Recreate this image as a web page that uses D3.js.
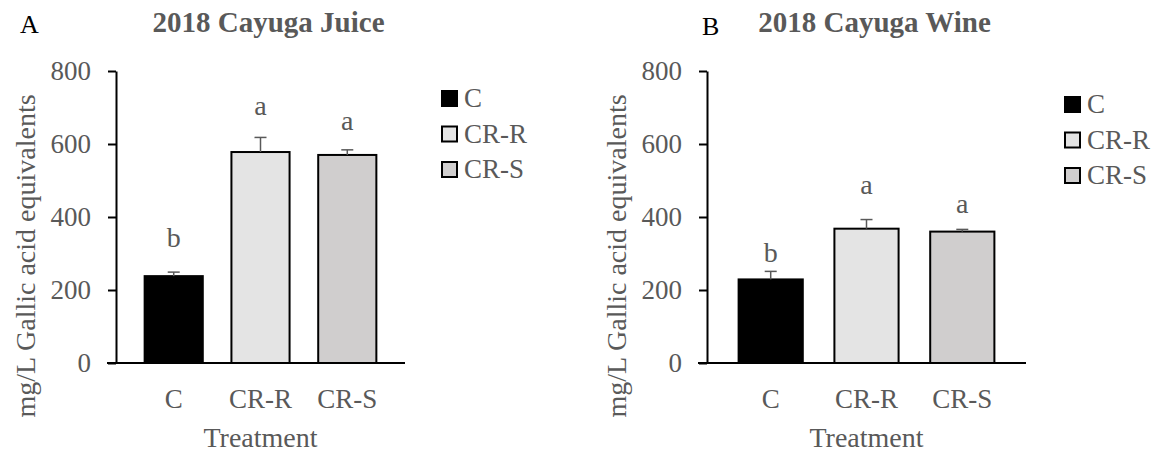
<!DOCTYPE html>
<html>
<head>
<meta charset="utf-8">
<script src="https://cdn.jsdelivr.net/npm/d3@7"></script>
<style>
	body { margin: 0; background: #fff; }
	text { font-family: "Liberation Serif", "Times New Roman", serif; }
</style>
</head>
<body>
<svg id="chart" width="1162" height="452"></svg>
<script>
var categories = ["C", "CR-R", "CR-S"];
var yTicks = [0, 200, 400, 600, 800];

var juiceMeans = [238, 578, 570];
var juiceErrors = [11, 40, 14];
var juiceLetters = ["b", "a", "a"];
var juiceLetterAt = [318, 679, 638];

var wineMeans = [229, 368, 360];
var wineErrors = [22, 25, 6];
var wineLetters = ["b", "a", "a"];
var wineLetterAt = [278, 462, 412];

var fills = ["#000000", "#e4e4e4", "#d0cece"];
var grey = "#595959";

var svg = d3.select("#chart");

drawPanel({
	tag: "A", tagX: 20, tagY: 33,
	title: "2018 Cayuga Juice",
	left: 116, right: 405,
	legendX: 442, legendY: 91,
	means: juiceMeans, errors: juiceErrors, letters: juiceLetters, letterAt: juiceLetterAt
});

drawPanel({
	tag: "B", tagX: 702, tagY: 35,
	title: "2018 Cayuga Wine",
	left: 707, right: 1026,
	legendX: 1065, legendY: 97,
	means: wineMeans, errors: wineErrors, letters: wineLetters, letterAt: wineLetterAt
});

function drawPanel(p) {
	var top = 71, bottom = 363;
	var g = svg.append("g");

	var x = d3.scaleBand().domain(categories).range([p.left, p.right]).padding(0.33);
	var y = d3.scaleLinear().domain([0, 800]).range([bottom, top]);

	// y axis
	var yAxis = g.append("g").attr("transform", "translate(" + p.left + ",0)")
		.call(d3.axisLeft(y).tickValues(yTicks).tickSize(8).tickSizeOuter(0).tickPadding(17));
	yAxis.select(".domain").attr("stroke", "#000").attr("stroke-width", 2);
	yAxis.selectAll(".tick line").attr("stroke", "#000").attr("stroke-width", 2);
	yAxis.selectAll(".tick text").attr("fill", grey).style("font-size", "27px")
		.style("font-family", "Liberation Serif");

	// bars
	g.selectAll(".bar").data(p.means).enter().append("rect")
		.attr("x", function(d, i) { return x(categories[i]); })
		.attr("y", function(d) { return y(d); })
		.attr("width", x.bandwidth())
		.attr("height", function(d) { return y(0) - y(d); })
		.attr("fill", function(d, i) { return fills[i]; })
		.attr("stroke", "#000").attr("stroke-width", 2);

	// error bars (upper only)
	p.means.forEach(function(v, i) {
		var cx = x(categories[i]) + x.bandwidth() / 2;
		g.append("line").attr("x1", cx).attr("x2", cx)
			.attr("y1", y(v)).attr("y2", y(v + p.errors[i]))
			.attr("stroke", grey).attr("stroke-width", 1.5);
		g.append("line").attr("x1", cx - 6).attr("x2", cx + 6)
			.attr("y1", y(v + p.errors[i])).attr("y2", y(v + p.errors[i]))
			.attr("stroke", grey).attr("stroke-width", 1.5);
		g.append("text").attr("x", cx).attr("y", y(p.letterAt[i]))
			.attr("text-anchor", "middle").attr("fill", grey)
			.style("font-size", "28px").text(p.letters[i]);
	});

	// x axis
	g.append("line").attr("x1", p.left - 9).attr("x2", p.right)
		.attr("y1", bottom).attr("y2", bottom)
		.attr("stroke", "#000").attr("stroke-width", 2);
	var xAxis = g.append("g").attr("transform", "translate(0," + bottom + ")")
		.call(d3.axisBottom(x).tickSize(0).tickPadding(26));
	xAxis.select(".domain").remove();
	xAxis.selectAll(".tick text").attr("fill", grey).style("font-size", "27px")
		.style("font-family", "Liberation Serif");

	// axis titles
	g.append("text").attr("x", (p.left + p.right) / 2).attr("y", 447)
		.attr("text-anchor", "middle").attr("fill", grey)
		.style("font-size", "28px").text("Treatment");
	g.append("text")
		.attr("transform", "translate(" + (p.left - 81) + ",256) rotate(-90)")
		.attr("text-anchor", "middle").attr("fill", grey)
		.style("font-size", "28px").text("mg/L Gallic acid equivalents");

	// title and panel letter
	g.append("text").attr("x", (p.left + p.right) / 2 + 8).attr("y", 32)
		.attr("text-anchor", "middle").attr("fill", grey)
		.style("font-size", "29px").style("font-weight", "bold").text(p.title);
	g.append("text").attr("x", p.tagX).attr("y", p.tagY)
		.attr("fill", "#000").style("font-size", "26px").text(p.tag);

	// legend
	categories.forEach(function(c, i) {
		var ly = p.legendY + i * 35.5;
		g.append("rect").attr("x", p.legendX).attr("y", ly)
			.attr("width", 15).attr("height", 15)
			.attr("fill", fills[i]).attr("stroke", "#000").attr("stroke-width", 2);
		g.append("text").attr("x", p.legendX + 22).attr("y", ly + 16)
			.attr("fill", grey).style("font-size", "27px").text(c);
	});
}
</script>
</body>
</html>
